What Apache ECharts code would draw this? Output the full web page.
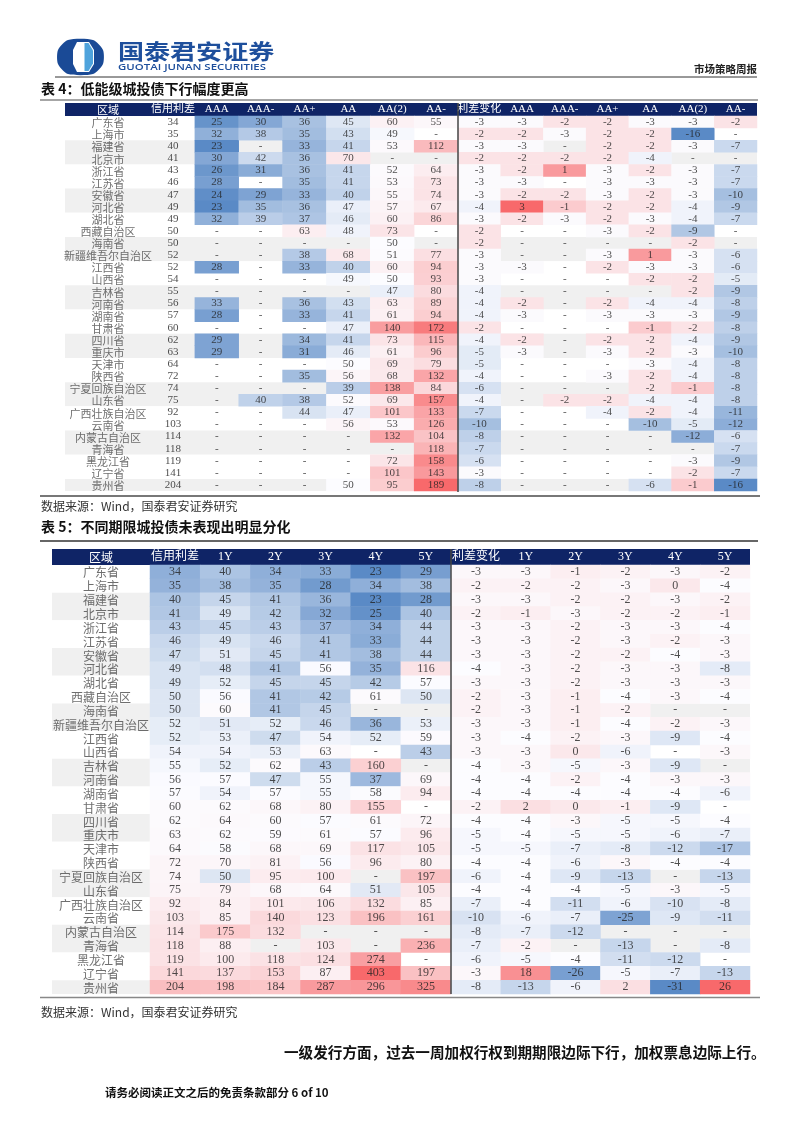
<!DOCTYPE html>
<html><head><meta charset="utf-8">
<script src="https://cdn.jsdelivr.net/npm/echarts@6/dist/echarts.min.js"></script>
<style>html,body{margin:0;padding:0;background:#fff}#c{width:802px;height:1133px}</style>
</head><body><div id="c"></div>
<script>
const N = null;
const regions = ['广东省','上海市','福建省','北京市','浙江省','江苏省','安徽省','河北省','湖北省','西藏自治区','海南省','新疆维吾尔自治区','江西省','山西省','吉林省','河南省','湖南省','甘肃省','四川省','重庆市','天津市','陕西省','宁夏回族自治区','山东省','广西壮族自治区','云南省','内蒙古自治区','青海省','黑龙江省','辽宁省','贵州省'];
const creditSpread = [34,35,40,41,43,46,47,49,49,50,50,52,52,54,55,56,57,60,62,63,64,72,74,75,92,103,114,118,119,141,204];
const spreadChange = [-3,-2,-3,-2,-3,-3,-3,-4,-3,-2,-2,-3,-3,-3,-4,-4,-4,-2,-4,-5,-5,-4,-6,-4,-7,-10,-8,-7,-6,-3,-8];

// 表4 headers
const t4Head = ['信用利差','AAA','AAA-','AA+','AA','AA(2)','AA-'];
const t4ChgHead = ['利差变化','AAA','AAA-','AA+','AA','AA(2)','AA-'];
// 表4 levels by rating
const t4LvAAA  = [25,32,23,30,26,28,24,23,32,N,N,N,28,N,N,33,28,N,29,29,N,N,N,N,N,N,N,N,N,N,N];
const t4LvAAAm = [30,38,N,42,31,N,29,35,39,N,N,N,N,N,N,N,N,N,N,N,N,N,N,40,N,N,N,N,N,N,N];
const t4LvAAp  = [36,35,33,36,36,35,33,36,37,63,N,38,33,N,N,36,33,N,34,31,N,35,N,38,44,N,N,N,N,N,N];
const t4LvAA   = [45,43,41,70,41,41,40,47,46,48,N,68,40,49,N,43,41,47,41,46,50,56,39,52,47,56,N,N,N,N,50];
const t4LvAA2  = [60,49,53,N,52,53,55,57,60,73,50,51,60,50,47,63,61,140,73,61,69,68,138,69,101,53,132,N,72,101,95];
const t4LvAAm  = [55,N,112,N,64,73,74,67,86,N,N,77,94,93,80,89,94,172,115,96,79,132,84,157,133,126,104,118,158,143,189];
// 表4 changes by rating
const t4ChAAA  = [-3,-2,-3,-2,-2,-3,-2,3,-2,N,N,N,-3,N,N,-2,-3,N,-2,-3,N,N,N,N,N,N,N,N,N,N,N];
const t4ChAAAm = [-2,-3,N,-2,1,N,-2,-1,-3,N,N,N,N,N,N,N,N,N,N,N,N,N,N,-2,N,N,N,N,N,N,N];
const t4ChAAp  = [-2,-2,-2,-2,-3,-3,-3,-2,-2,-3,N,-3,-2,N,N,-2,-3,N,-2,-3,N,-3,N,-2,-4,N,N,N,N,N,N];
const t4ChAA   = [-3,-2,-2,-4,-2,-3,-2,-2,-3,-2,N,1,-3,-2,N,-4,-3,-1,-2,-2,-3,-2,-2,-4,-2,-10,N,N,N,N,-6];
const t4ChAA2  = [-3,-16,-3,N,-3,-3,-3,-4,-4,-9,-2,-3,-3,-2,-2,-4,-3,-2,-4,-3,-4,-4,-1,-4,-4,-5,-12,N,-3,-2,-1];
const t4ChAAm  = [-2,N,-7,N,-7,-7,-10,-9,-7,N,N,-6,-6,-5,-9,-8,-9,-8,-9,-10,-8,-8,-8,-8,-11,-12,-6,-7,-9,-7,-16];

// 表5 headers
const t5Head = ['信用利差','1Y','2Y','3Y','4Y','5Y'];
const t5ChgHead = ['利差变化','1Y','2Y','3Y','4Y','5Y'];
// 表5 levels by tenor
const t5Lv1Y = [40,38,45,49,45,49,51,48,52,56,60,51,53,54,52,57,54,62,64,62,58,70,50,79,84,85,175,88,100,137,198];
const t5Lv2Y = [34,35,41,42,43,46,45,41,45,41,41,52,47,53,62,47,57,68,60,59,68,81,95,68,101,140,132,N,118,153,184];
const t5Lv3Y = [33,28,36,32,37,41,41,56,45,42,45,46,54,63,43,55,55,80,57,61,69,56,100,64,106,123,N,103,124,87,287];
const t5Lv4Y = [23,34,23,25,34,33,38,35,42,61,N,36,52,N,160,37,58,155,61,57,117,96,N,51,132,196,N,N,274,403,296];
const t5Lv5Y = [29,38,28,40,44,44,44,116,57,50,N,53,59,43,N,69,94,N,72,96,105,80,197,105,85,161,N,236,N,197,325];
// 表5 changes by tenor
const t5Ch1Y = [-3,-2,-3,-1,-3,-3,-3,-3,-3,-3,-3,-3,-4,-3,-3,-4,-4,2,-4,-4,-5,-4,-4,-4,-4,-6,-7,-2,-5,18,-13];
const t5Ch2Y = [-1,-2,-2,-3,-2,-2,-2,-2,-2,-1,-1,-1,-2,0,-5,-2,-4,0,-3,-5,-7,-6,-9,-4,-11,-7,-12,N,-4,-26,-6];
const t5Ch3Y = [-2,-3,-2,-2,-3,-3,-2,-3,-3,-4,-2,-4,-3,-6,-3,-4,-4,-1,-5,-5,-8,-3,-13,-5,-6,-25,N,-13,-11,-5,2];
const t5Ch4Y = [-3,0,-3,-2,-3,-2,-4,-3,-3,-3,N,-2,-9,N,-9,-3,-4,-9,-5,-6,-12,-4,N,-3,-10,-9,N,N,-12,-7,-31];
const t5Ch5Y = [-2,-4,-2,-1,-4,-3,-3,-8,-3,-4,N,-3,-4,-3,N,-3,-6,N,-4,-7,-17,-4,-13,-5,-8,-11,N,-8,N,-13,26];

const t4LeftCols  = [creditSpread, t4LvAAA, t4LvAAAm, t4LvAAp, t4LvAA, t4LvAA2, t4LvAAm];
const t4RightCols = [spreadChange, t4ChAAA, t4ChAAAm, t4ChAAp, t4ChAA, t4ChAA2, t4ChAAm];
const t5LeftCols  = [creditSpread, t5Lv1Y, t5Lv2Y, t5Lv3Y, t5Lv4Y, t5Lv5Y];
const t5RightCols = [spreadChange, t5Ch1Y, t5Ch2Y, t5Ch3Y, t5Ch4Y, t5Ch5Y];

function heatData(cols, from) {
  const d = [];
  cols.forEach((col, xi) => { if (xi < from) return; col.forEach((v, yi) => { if (v != null) d.push([xi, yi, v]); }); });
  return d;
}
function textData(cols) {
  const d = [];
  cols.forEach((col, xi) => col.forEach((v, yi) => d.push([xi, yi, v == null ? '-' : String(v)])));
  return d;
}
function median(a) { const s = a.slice().sort((x, y) => x - y); const m = s.length / 2; return s.length % 2 ? s[Math.floor(m)] : (s[m - 1] + s[m]) / 2; }
function scaleMap(data, seriesIndex) {
  const vals = data.map(d => d[2]);
  const min = Math.min(...vals), max = Math.max(...vals), mid = median(vals);
  const lo = [90, 138, 198], md = [252, 252, 255], hi = [248, 105, 107];
  const n = 81, colors = [];
  for (let i = 0; i < n; i++) {
    const v = min + (max - min) * i / (n - 1);
    let a, b, t;
    if (v <= mid) { a = lo; b = md; t = (v - min) / (mid - min); } else { a = md; b = hi; t = (v - mid) / (max - mid); }
    const c = a.map((x, k) => Math.round(x + (b[k] - x) * t));
    colors.push('rgb(' + c.join(',') + ')');
  }
  return { type: 'continuous', show: false, seriesIndex, dimension: 2, min, max, inRange: { color: colors } };
}

const SERIF = "'Liberation Serif','Noto Sans CJK SC',serif";
const CJK = "'Noto Sans CJK SC',sans-serif";
const T4 = { top: 116, h: 375, fs: 11, regL: 65, regW: 86, lL: 151, lW: 307, rL: 458, rW: 299, hdTop: 103, lm: 0 };
const T5 = { top: 565, h: 429, fs: 12, regL: 52, regW: 98, lL: 150, lW: 301, rL: 451, rW: 299, hdTop: 549, lm: 1 };

const grids = [], xAxes = [], yAxes = [], series = [], visualMaps = [];
function addGrid(left, width, T, headers, isRegion) {
  const gi = grids.length;
  grids.push({ left, top: T.top, width, height: T.h });
  xAxes.push({ type: 'category', gridIndex: gi, position: 'top', data: headers, z: 5,
    axisLine: { show: false }, axisTick: { show: false }, splitLine: { show: false },
    axisLabel: { color: '#fff', fontSize: T.fs, fontFamily: isRegion ? CJK : SERIF, margin: T.lm, lineHeight: T.fs + 2, interval: 0 } });
  yAxes.push({ type: 'category', gridIndex: gi, inverse: true, data: regions,
    axisLine: { show: false }, axisTick: { show: false }, axisLabel: { show: false }, splitLine: { show: false },
    splitArea: { show: true, areaStyle: { color: ['#ffffff', '#f0f0f0'] } } });
  return gi;
}
function addText(gi, data, T, color, family, dy) {
  series.push({ type: 'scatter', xAxisIndex: gi, yAxisIndex: gi, symbolSize: 1, itemStyle: { color: 'rgba(0,0,0,0)' },
    data, z: 4, silent: true,
    label: { show: true, position: 'inside', offset: [0, dy || 0], formatter: p => p.data[2], color, fontSize: T.fs, fontFamily: family } });
}
function addHeat(gi, data) {
  const si = series.length;
  series.push({ type: 'heatmap', xAxisIndex: gi, yAxisIndex: gi, data, z: 2, label: { show: false }, itemStyle: { borderWidth: 0 } });
  visualMaps.push(scaleMap(data, si));
}

function buildTable(T, leftHead, rightHead, leftCols, rightCols, leftFrom) {
  const g0 = addGrid(T.regL, T.regW, T, ['区域'], true);
  addText(g0, regions.map((r, i) => [0, i, r]), T, '#4a4a4a', CJK, 1);
  const g1 = addGrid(T.lL, T.lW, T, leftHead, false);
  addHeat(g1, heatData(leftCols, leftFrom));
  addText(g1, textData(leftCols), T, '#222', SERIF, 0);
  const g2 = addGrid(T.rL, T.rW, T, rightHead, false);
  addHeat(g2, heatData(rightCols, 0));
  addText(g2, textData(rightCols), T, '#222', SERIF, 0);
}
buildTable(T4, t4Head, t4ChgHead, t4LeftCols, t4RightCols, 1);
buildTable(T5, t5Head, t5ChgHead, t5LeftCols, t5RightCols, 0);

function txt(text, x, y, font, fill, align, extra) {
  return Object.assign({ type: 'text', z: 10, style: { text, x, y, font, fill, align: align || 'left', textAlign: align || 'left', verticalAlign: 'middle', textVerticalAlign: 'middle' } }, extra || {});
}
function line(x1, y1, x2, y2, stroke, lw) {
  return { type: 'line', z: 10, shape: { x1, y1, x2, y2 }, style: { stroke, lineWidth: lw } };
}
const NAVY = '#0f2466';
const graphic = [
  // logo
  { type: 'polygon', z: 10, shape: { points: [[68,40],[93,40],[103,50],[103,64],[93,74],[68,74],[58,64],[58,50]], smooth: 0.25 }, style: { fill: '#1a4a96' } },
  { type: 'polygon', z: 11, shape: { points: [[77,42],[89,42],[94,50],[94,64],[89,72],[77,72],[73,64],[73,50]] }, style: { fill: '#ffffff' } },
  { type: 'polygon', z: 12, shape: { points: [[84.5,43],[88.5,43],[93,50.5],[93,63.5],[88.5,71],[84.5,71]] }, style: { fill: '#4fa3dc' } },
  txt('国泰君安证券', 118, 51.5, 'bold 21px ' + CJK, '#1e4f9c', 'left', { x: 118, y: 0, scaleX: 1.24, style: { text: '国泰君安证券', x: 0, y: 51.5, font: 'bold 21px ' + CJK, fill: '#1e4f9c', align: 'left', textAlign: 'left', verticalAlign: 'middle', textVerticalAlign: 'middle' } }),
  txt('GUOTAI JUNAN SECURITIES', 118, 67.5, '600 9.5px "Open Sans",sans-serif', '#1e4f9c', 'left', { x: 118, y: 0, scaleX: 1.2, style: { text: 'GUOTAI JUNAN SECURITIES', x: 0, y: 67.5, font: '600 9.5px "Open Sans",sans-serif', fill: '#1e4f9c', align: 'left', textAlign: 'left', verticalAlign: 'middle', textVerticalAlign: 'middle' } }),
  txt('市场策略周报', 757, 69, 'bold 10.5px ' + CJK, '#222', 'right'),
  line(55, 77, 757, 77, '#333', 1),
  txt('表 4：低能级城投债下行幅度更高', 41, 89, 'bold 14px ' + CJK, '#111'),
  line(40, 100, 758, 100, '#888', 1.5),
  { type: 'rect', z: -1, shape: { x: T4.regL, y: T4.hdTop, width: 757 - T4.regL, height: T4.top - T4.hdTop }, style: { fill: NAVY } },
  line(458, 103, 458, 492, '#444', 1.5),
  line(40, 496, 760, 496, '#777', 2),
  txt('数据来源：Wind，国泰君安证券研究', 41, 506, '12px ' + CJK, '#333'),
  txt('表 5：不同期限城投债未表现出明显分化', 41, 527, 'bold 14px ' + CJK, '#111'),
  line(40, 541, 758, 541, '#333', 1.5),
  { type: 'rect', z: -1, shape: { x: T5.regL, y: T5.hdTop, width: 750 - T5.regL, height: T5.top - T5.hdTop }, style: { fill: NAVY } },
  line(451, 549, 451, 994, '#444', 1.5),
  line(40, 997.5, 760, 997.5, '#888', 1.5),
  txt('数据来源：Wind，国泰君安证券研究', 41, 1012, '12px ' + CJK, '#333'),
  txt('一级发行方面，过去一周加权行权到期期限边际下行，加权票息边际上行。', 284, 1052, 'bold 14.6px ' + CJK, '#111'),
  txt('请务必阅读正文之后的免责条款部分 6 of 10', 105, 1093, 'bold 11.5px ' + CJK, '#111')
];

const chart = echarts.init(document.getElementById('c'), null, { renderer: 'canvas' });
chart.setOption({ animation: false, backgroundColor: '#fff', grid: grids, xAxis: xAxes, yAxis: yAxes, visualMap: visualMaps, series, graphic });
</script></body></html>
